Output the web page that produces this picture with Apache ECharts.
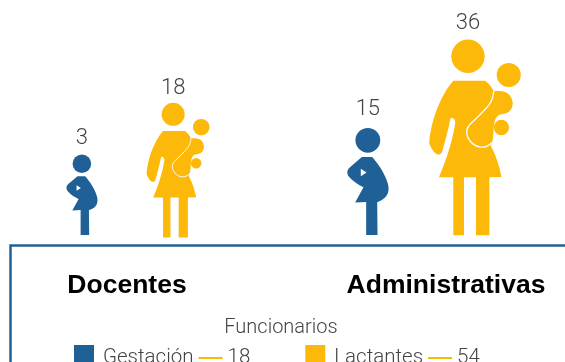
<!DOCTYPE html>
<html>
<head>
<meta charset="utf-8">
<style>html,body{margin:0;padding:0;background:#fff;overflow:hidden}#chart{width:565px;height:362px}</style>
<script src="https://cdn.jsdelivr.net/npm/echarts@6/dist/echarts.min.js"></script>
</head>
<body>
<div id="chart"></div>
<script>
var categories = ['Docentes', 'Administrativas'];
var gestacion = [3, 15];
var lactantes = [18, 36];

var BLUE = '#1f6196';
var YELLOW = '#fdb909';
var FONT = '"Liberation Sans", Arial, sans-serif';
var LIGHT = 'Roboto, "Liberation Sans", sans-serif';

// siluetas dibujadas a escala 3x, se reescalan segun el valor
var pregnantBox = { x: 22, y: 385, w: 123, h: 320, head: 83 };
var pregnantBody = 'M65 472L96 472C112 490 134 520 143 552C149 574 142 592 124 601L111 607L112 705L78 705L78 606L45 608L70 562C52 554 36 542 26 530C20 522 20 512 28 504C40 494 54 482 65 472Z';
var pregnantHead = 'M46 422A37 37 0 1 0 120 422A37 37 0 1 0 46 422Z';
var pregnantMark = 'M62 507L79 518L62 529Z';

var nursingBox = { x: 268, y: 122, w: 274, h: 588, head: 384 };
var nursingBody = 'M340 245L436 245C448 255 456 265 461 276L478 276C500 276 516 288 518 312C518 328 508 343 490 345C470 346 463 360 461 385C460 405 460 425 452 440C466 465 478 500 484 533L448 534L448 708L408 708L408 534L372 534L372 708L340 708L340 534L297 534C312 500 335 440 346 372C346 360 340 355 332 357C326 385 318 420 306 460C298 472 282 468 268 432C272 370 300 290 340 245Z';
var nursingHead = 'M334 172A50 50 0 1 0 434 172A50 50 0 1 0 334 172Z';
var babyHead = 'M470 228A36 36 0 1 0 542 228A36 36 0 1 0 470 228Z';
var babyFoot = 'M461 385A23 23 0 1 0 507 385A23 23 0 1 0 461 385Z';
var sling = 'M461 276C460 290 458 302 448 316C430 340 400 365 388 378C376 392 378 412 392 428C408 446 435 452 456 430';

// ajustes de colocacion de cada figura: dx, dy, separacion de la etiqueta
var gestOffset = [[-45, -1, 5], [-78, -1, 8]];
var lactOffset = [[51, 2, 3], [29, 0, 5]];

function valueLabel(x, y, value) {
  return {
    type: 'text', x: x, y: y,
    style: { text: String(value), fill: '#444', font: '300 22px ' + LIGHT, align: 'center', verticalAlign: 'bottom' }
  };
}

function path(d, groupX, groupY, s, box, style) {
  return {
    type: 'path',
    x: groupX - box.x * s,
    y: groupY - box.y * s,
    scaleX: s, scaleY: s,
    shape: { pathData: d },
    style: style
  };
}

function drawGest(params, api) {
  var i = api.value(0), v = api.value(1);
  var base = api.coord([i, 0]);
  var h = 74 + 2.2 * v, s = h / pregnantBox.h;
  var left = base[0] + gestOffset[i][0] - pregnantBox.w * s / 2;
  var top = base[1] + gestOffset[i][1] - h;
  var fill = { fill: BLUE };
  return {
    type: 'group',
    children: [
      path(pregnantHead, left, top, s, pregnantBox, fill),
      path(pregnantBody, left, top, s, pregnantBox, fill),
      path(pregnantMark, left, top, s, pregnantBox, { fill: '#fff' }),
      valueLabel(left + (pregnantBox.head - pregnantBox.x) * s, top - gestOffset[i][2], v)
    ]
  };
}

function drawLact(params, api) {
  var i = api.value(0), v = api.value(1);
  var base = api.coord([i, 0]);
  var h = 74 + 3.4 * v, s = h / nursingBox.h;
  var left = base[0] + lactOffset[i][0] - nursingBox.w * s / 2;
  var top = base[1] + lactOffset[i][1] - h;
  var fill = { fill: YELLOW };
  return {
    type: 'group',
    children: [
      path(nursingHead, left, top, s, nursingBox, fill),
      path(babyHead, left, top, s, nursingBox, fill),
      path(babyFoot, left, top, s, nursingBox, fill),
      path(nursingBody, left, top, s, nursingBox, fill),
      path(sling, left, top, s, nursingBox, { fill: 'none', stroke: '#fff', lineWidth: 4 }),
      valueLabel(left + (nursingBox.head - nursingBox.x) * s, top - lactOffset[i][2], v)
    ]
  };
}

function toData(values) {
  return values.map(function (v, i) { return [i, v]; });
}

function sum(values) {
  return values.reduce(function (a, b) { return a + b; }, 0);
}

var totals = { 'Gestación': sum(gestacion), 'Lactantes': sum(lactantes) };

var myChart = echarts.init(document.getElementById('chart'), null, { renderer: 'canvas' });

myChart.setOption({
  animation: false,
  title: {
    text: 'Funcionarios',
    left: 276, top: 313, textAlign: 'center',
    textStyle: { fontFamily: LIGHT, fontWeight: 300, fontSize: 20, color: '#444' }
  },
  grid: { left: 127, right: 119, top: 0, bottom: 126 },
  xAxis: {
    type: 'category',
    boundaryGap: false,
    data: categories,
    axisLine: { show: false },
    axisTick: { show: false },
    axisLabel: { margin: 36, fontFamily: FONT, fontWeight: 'bold', fontSize: 26.5, color: '#000', interval: 0 }
  },
  yAxis: { type: 'value', min: 0, max: 40, show: false },
  legend: {
    left: 69, top: 340,
    itemWidth: 20, itemHeight: 20, itemGap: 55,
    icon: 'rect',
    data: ['Gestación', 'Lactantes'],
    formatter: function (name) {
      return name + ' {dash|}' + ' ' + totals[name];
    },
    textStyle: {
      fontFamily: LIGHT, fontWeight: 300, fontSize: 20.5, color: '#444',
      padding: [6, 0, 0, 4],
      rich: { dash: { width: 24, height: 2, backgroundColor: YELLOW } }
    }
  },
  graphic: [{
    type: 'polyline',
    silent: true,
    shape: { points: [[10.5, 362], [10.5, 245.5], [565, 245.5]] },
    style: { fill: 'none', stroke: BLUE, lineWidth: 2.5 }
  }],
  series: [
    { name: 'Gestación', type: 'custom', renderItem: drawGest, itemStyle: { color: BLUE }, data: toData(gestacion) },
    { name: 'Lactantes', type: 'custom', renderItem: drawLact, itemStyle: { color: YELLOW }, data: toData(lactantes) }
  ]
});
</script>
</body>
</html>
